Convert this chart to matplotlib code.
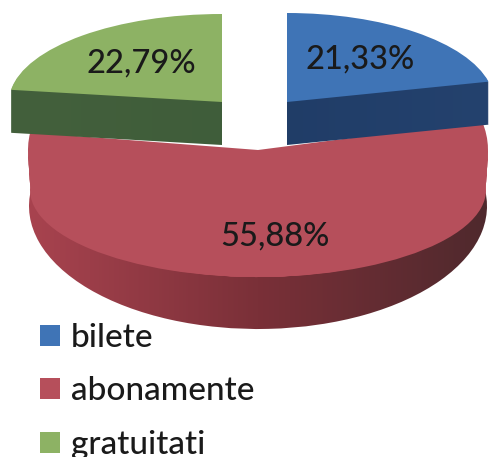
import numpy as np
import matplotlib
matplotlib.use("Agg")
import matplotlib.pyplot as plt
from matplotlib.colors import LinearSegmentedColormap

categories = ["bilete", "abonamente", "gratuitati"]
shares = [21.33, 55.88, 22.79]
top_colors = ["#3f74b6", "#b64f5b", "#8db264"]
side_colors = [["#1d3861", "#24426e"], ["#a8434f", "#7a3038", "#4f292d"], ["#43603c", "#3c5a38"]]

W, H = 490, 457
# shapes in pixels: centre x, centre y, radius x, radius y, extruded depth
side_shapes = [(287, 102, 207, 89, 43), (258, 205, 229, 123, 1), (222, 102, 213, 88, 43)]
top_shapes = [[(287, 102, 207, 89)],
              [(258, 150, 230, 127), (258, 158, 230, 119), (258, 166, 229, 111),
               (258, 174, 229, 103), (258, 182, 228, 95), (258, 190, 228, 87)],
              [(222, 102, 213, 88)]]
draw_order = [1, 2, 0]
pct_pos = [(360, 59), (275, 236), (141, 63)]

plt.rcParams["font.family"] = ["Lato", "DejaVu Sans"]
fig = plt.figure(figsize=(W / 100, H / 100), dpi=100)
ramp = np.linspace(0, 1, 256).reshape(1, -1)
legend_handles = {}


def slice_axes(cx, cy, rx, ry, depth):
    bottom = H - (cy + depth + 2 + ry)
    ax = fig.add_axes([(cx - rx) / W, bottom / H, 2 * rx / W, (2 * ry + depth + 2) / H])
    return ax, -1 - (depth + 2) / ry


def finish_axes(ax, ylo):
    ax.set_aspect("auto")
    ax.set_xlim(-1, 1)
    ax.set_ylim(ylo, 1)
    ax.axis("off")


for i in draw_order:
    cx, cy, rx, ry, depth = side_shapes[i]
    ax, ylo = slice_axes(cx, cy, rx, ry, depth)
    cmap = LinearSegmentedColormap.from_list("side", side_colors[i])
    for k in range(depth, 0, -1):
        wedges, _ = ax.pie(shares, startangle=90, counterclock=False,
                           center=(0, -k / ry), colors=top_colors)
        for w in wedges:
            w.set_visible(False)
        im = ax.imshow(ramp, extent=(-1, 1, ylo, 1), cmap=cmap, aspect="auto", zorder=1)
        im.set_clip_path(wedges[i])
    finish_axes(ax, ylo)

    for cx, cy, rx, ry in top_shapes[i]:
        ax, ylo = slice_axes(cx, cy, rx, ry, 0)
        wedges, _ = ax.pie(shares, startangle=90, counterclock=False, colors=top_colors)
        for j, w in enumerate(wedges):
            w.set_visible(j == i)
        legend_handles[i] = wedges[i]
        finish_axes(ax, ylo)

for v, (x, y) in zip(shares, pct_pos):
    fig.text(x / W, 1 - y / H, f"{v:.2f}".replace(".", ",") + "%", fontsize=23.5,
             fontweight="medium", color="#1a1a1a", ha="center", va="center", zorder=10)

fig.legend([legend_handles[i] for i in range(3)], categories, loc="lower left",
           bbox_to_anchor=(40 / W, -3 / H), frameon=False,
           prop={"size": 24, "weight": "medium"},
           handlelength=0.6, handleheight=0.6, handletextpad=0.33,
           labelspacing=0.705, borderpad=0, borderaxespad=0, labelcolor="#1a1a1a")

fig.savefig("out.png", dpi=100)
